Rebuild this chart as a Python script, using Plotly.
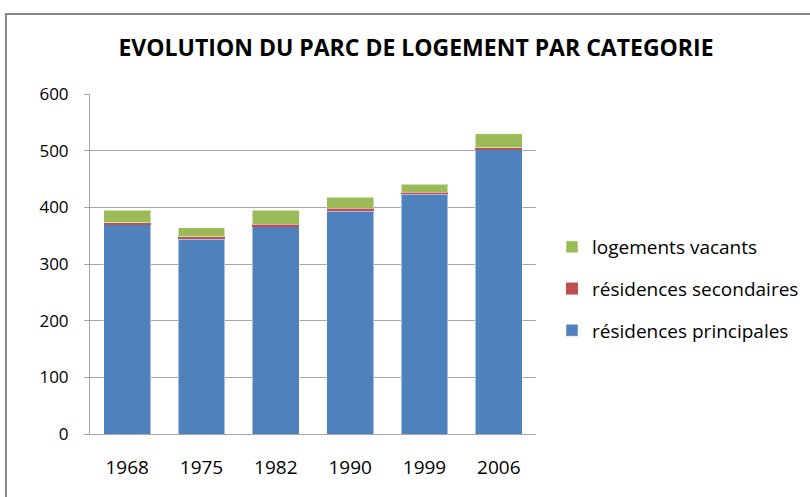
import plotly.graph_objects as go

years = ["1968", "1975", "1982", "1990", "1999", "2006"]
res_principales = [370, 344, 366, 393, 423, 502]
res_secondaires = [3, 4, 4, 5, 4, 3]
log_vacants = [22, 16, 25, 20, 14, 25]

colors = {"p": "#4F81BD", "s": "#C0504D", "v": "#9BBB59"}
FONT = "Open Sans"

fig = go.Figure()
fig.add_trace(go.Bar(x=years, y=res_principales, name="résidences principales",
                     marker=dict(color=colors["p"], line=dict(color="rgba(255,255,255,0.5)", width=1)),
                     legendgroup="p", legendrank=3))
fig.add_trace(go.Bar(x=years, y=res_secondaires, name="résidences secondaires",
                     marker=dict(color=colors["s"], line=dict(color="rgba(255,255,255,0.5)", width=0)),
                     legendgroup="s", legendrank=2))
fig.add_trace(go.Bar(x=years, y=log_vacants, name="logements vacants",
                     marker=dict(color=colors["v"], line=dict(color="rgba(255,255,255,0.5)", width=1)),
                     legendgroup="v", legendrank=1))

W, H = 810, 497
L, R, T, B = 90, 274, 94, 63
pw, ph = W - L - R, H - T - B

def px_x(p):
    return (p - L) / pw

def px_y(p):
    return (H - B - p) / ph

fig.update_layout(
    width=W, height=H,
    margin=dict(l=L, r=R, t=T, b=B, autoexpand=False),
    barmode="stack",
    bargap=0.37,
    paper_bgcolor="white",
    plot_bgcolor="white",
    font=dict(family=FONT, color="#000000", size=15),
    title=dict(text="<b>EVOLUTION DU PARC DE LOGEMENT PAR CATEGORIE</b>",
               x=416 / W, xanchor="center", y=1 - 48 / H, yanchor="middle",
               font=dict(family=FONT, size=23, color="#000000")),
    showlegend=True,
    legend=dict(x=px_x(552), y=px_y(228), xanchor="left", yanchor="top",
                traceorder="grouped", tracegroupgap=14,
                font=dict(family=FONT, size=19, color="#000000"),
                itemwidth=30, bgcolor="rgba(0,0,0,0)"),
    xaxis=dict(showgrid=False, showline=True, linecolor="#A6A6A6", linewidth=1,
               ticks="", tickfont=dict(family=FONT, size=19), ticklabelstandoff=16),
    yaxis=dict(range=[0, 600], dtick=100, showgrid=True, gridcolor="#A6A6A6", gridwidth=1,
               showline=True, linecolor="#A6A6A6", linewidth=1, ticks="outside",
               ticklen=5, tickcolor="#A6A6A6", tickfont=dict(family=FONT, size=17),
               ticklabelstandoff=12, zeroline=False),
    shapes=[dict(type="rect", xref="paper", yref="paper",
                 x0=px_x(6), x1=px_x(830), y0=px_y(520), y1=px_y(14),
                 line=dict(color="#868686", width=2), fillcolor="rgba(0,0,0,0)", layer="below")],
)

fig.write_html("out.html", config={"displayModeBar": False},
               post_script="document.body.style.margin='0px';")
